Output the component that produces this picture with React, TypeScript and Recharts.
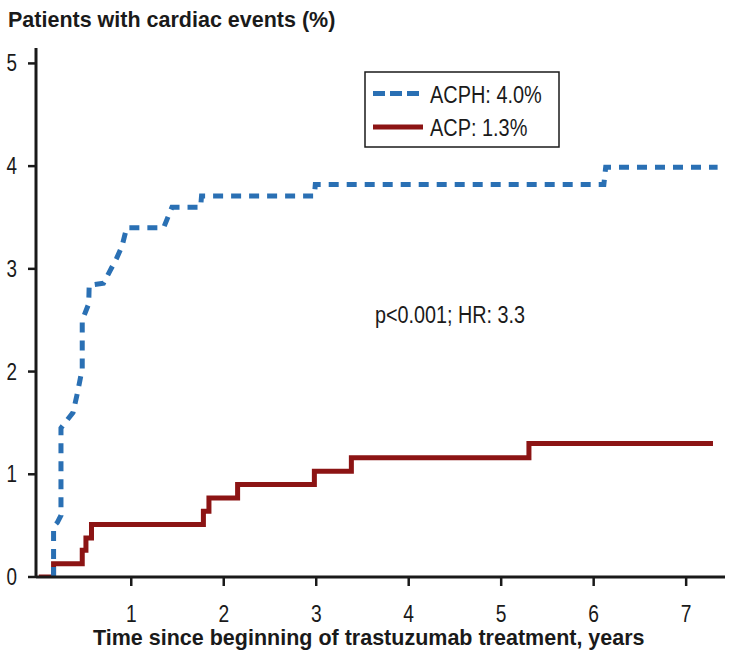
import React from "react";
import { LineChart, Line, XAxis, YAxis } from "recharts";

// Time (years) and cumulative % for each arm
const TIMES_ACPH = [0.16, 0.16, 0.2, 0.24, 0.24, 0.3, 0.37, 0.41, 0.44, 0.47, 0.47, 0.54, 0.545, 0.7, 0.77, 0.84, 0.9, 0.95, 1.35, 1.44, 1.75, 1.76, 2.98, 2.99, 6.11, 6.13, 7.34];
const PCT_ACPH = [0, 0.49, 0.53, 0.6, 1.45, 1.52, 1.6, 1.76, 1.89, 2.03, 2.5, 2.66, 2.84, 2.86, 2.98, 3.1, 3.22, 3.4, 3.4, 3.6, 3.6, 3.71, 3.71, 3.82, 3.82, 3.99, 3.99];

const TIMES_ACP = [0, 0.16, 0.47, 0.51, 0.57, 1.78, 1.84, 2.15, 2.98, 3.38, 5.3, 7.29];
const PCT_ACP = [0, 0.13, 0.26, 0.38, 0.51, 0.64, 0.77, 0.9, 1.03, 1.16, 1.3, 1.3];

const X_TICKS = [1, 2, 3, 4, 5, 6, 7];
const Y_TICKS = [0, 1, 2, 3, 4, 5];

const LABEL_ACPH = "ACPH: 4.0%";
const LABEL_ACP = "ACP: 1.3%";
const Y_TITLE = "Patients with cardiac events (%)";
const X_TITLE = "Time since beginning of trastuzumab treatment, years";
const STATS_TEXT = "p<0.001; HR: 3.3";

const BLUE = "#2a70b4";
const RED = "#8c1414";
const INK = "#1a1a1a";
const FONT = "'Liberation Sans', Arial, Helvetica, sans-serif";

const acphData = TIMES_ACPH.map((t, i) => ({ t, v: PCT_ACPH[i] }));
const acpData = TIMES_ACP.map((t, i) => ({ t, v: PCT_ACP[i] }));

const YTick = (props: any) => {
  const { x, y, payload } = props;
  return (
    <text
      transform={`translate(${x},${y + 8}) scale(0.82,1)`}
      textAnchor="end"
      fontFamily={FONT}
      fontSize={23}
      fill={INK}
    >
      {payload.value}
    </text>
  );
};

const XTick = (props: any) => {
  const { x, y, payload } = props;
  return (
    <text
      transform={`translate(${x},${y + 36}) scale(0.8,1)`}
      textAnchor="middle"
      fontFamily={FONT}
      fontSize={24}
      fill={INK}
    >
      {payload.value}
    </text>
  );
};

export default function App() {
  return (
    <div style={{ position: "absolute", left: 0, top: 0, width: 735, height: 655, background: "#fff" }}>
      <LineChart
        width={735}
        height={655}
        margin={{ top: 48, right: 10, bottom: 0, left: 0 }}
      >
        <XAxis
          type="number"
          dataKey="t"
          domain={[-0.03, 7.42]}
          ticks={X_TICKS}
          allowDataOverflow
          height={78}
          axisLine={{ stroke: INK, strokeWidth: 3 }}
          tickLine={{ stroke: INK, strokeWidth: 2.5 }}
          tickSize={9}
          tickMargin={0}
          tick={<XTick />}
        />
        <YAxis
          type="number"
          dataKey="v"
          domain={[0, 5.15]}
          ticks={Y_TICKS}
          allowDataOverflow
          width={36}
          axisLine={{ stroke: INK, strokeWidth: 3 }}
          tickLine={{ stroke: INK, strokeWidth: 2.5 }}
          tickSize={8}
          tickMargin={11}
          tick={<YTick />}
        />
        <Line
          data={acpData}
          dataKey="v"
          type="stepAfter"
          stroke={RED}
          strokeWidth={5}
          strokeLinejoin="miter"
          dot={false}
          activeDot={false}
          isAnimationActive={false}
        />
        <Line
          data={acphData}
          dataKey="v"
          type="linear"
          stroke={BLUE}
          strokeWidth={5}
          strokeDasharray="10 8"
          dot={false}
          activeDot={false}
          isAnimationActive={false}
        />
      </LineChart>
      <svg
        width={735}
        height={655}
        style={{ position: "absolute", left: 0, top: 0, pointerEvents: "none" }}
      >
        <text x={8} y={27} fontFamily={FONT} fontWeight="bold" fontSize={21.5} fill={INK}>
          {Y_TITLE}
        </text>
        <text x={93} y={645} fontFamily={FONT} fontWeight="bold" fontSize={21.5} fill={INK}>
          {X_TITLE}
        </text>
        <text
          transform="translate(375,322.5) scale(0.86,1)"
          fontFamily={FONT}
          fontSize={23}
          fill={INK}
        >
          {STATS_TEXT}
        </text>
        <rect x={365} y={72} width={194} height={75} fill="#fff" stroke={INK} strokeWidth={1.5} />
        <line x1={373} y1={93.5} x2={423} y2={93.5} stroke={BLUE} strokeWidth={5} strokeDasharray="12 5" />
        <line x1={373} y1={127} x2={423} y2={127} stroke={RED} strokeWidth={5} />
        <text
          transform="translate(430,102.5) scale(0.83,1)"
          fontFamily={FONT}
          fontSize={24}
          fill={INK}
        >
          {LABEL_ACPH}
        </text>
        <text
          transform="translate(430,136) scale(0.83,1)"
          fontFamily={FONT}
          fontSize={24}
          fill={INK}
        >
          {LABEL_ACP}
        </text>
      </svg>
    </div>
  );
}
